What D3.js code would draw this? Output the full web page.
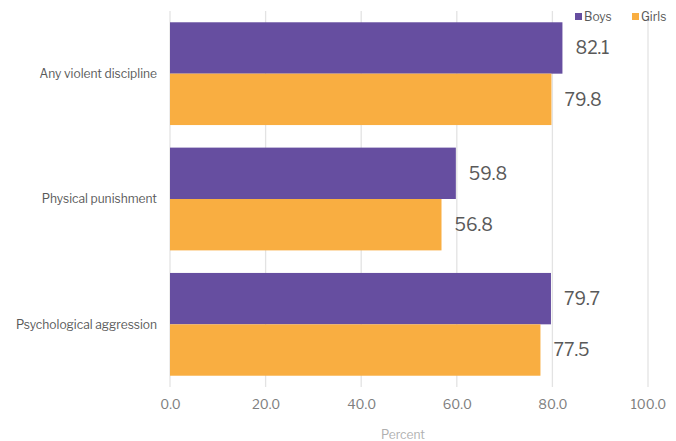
<!DOCTYPE html>
<html><head><meta charset="utf-8">
<script src="https://cdn.jsdelivr.net/npm/d3@7"></script>
<style>body{margin:0;background:#fff}svg{display:block}text{font-family:"Libre Franklin","Liberation Sans","Open Sans",sans-serif}</style>
</head><body><svg id="c" width="676" height="441"></svg>
<script>
const categories = ["Any violent discipline","Physical punishment","Psychological aggression"];
const seriesNames = ["Boys","Girls"];
const boys = [82.1, 59.8, 79.7];
const girls = [79.8, 56.8, 77.5];
const ticks = [0,20,40,60,80,100];
const colors = ["#664EA0","#F9AE41"];

const svg = d3.select("#c");
const x = d3.scaleLinear().domain([0,100]).range([170,648]);
const y = d3.scaleBand().domain(categories).range([11,387]).paddingInner(0.18).paddingOuter(0.09);
const ys = d3.scaleBand().domain(seriesNames).range([0,y.bandwidth()]);

// grid
svg.append("g").selectAll("line").data(ticks).join("line")
  .attr("x1",d=>x(d)).attr("x2",d=>x(d)).attr("y1",11).attr("y2",387)
  .attr("stroke","#e3e3e3").attr("stroke-width",1.3);

const data = categories.map((c,i)=>({c, vals:[boys[i],girls[i]]}));
const g = svg.append("g").selectAll("g").data(data).join("g")
  .attr("transform",d=>`translate(0,${y(d.c)})`);
g.selectAll("rect").data(d=>d.vals.map((v,j)=>({v,s:seriesNames[j],j}))).join("rect")
  .attr("x",x(0)).attr("y",d=>ys(d.s)).attr("width",d=>x(d.v)-x(0)).attr("height",ys.bandwidth())
  .attr("fill",d=>colors[d.j]);
g.selectAll("text.v").data(d=>d.vals.map((v,j)=>({v,s:seriesNames[j],j}))).join("text")
  .attr("class","v").attr("x",d=>x(d.v)+13).attr("y",d=>ys(d.s)+ys.bandwidth()/2)
  .attr("dy","0.36em").attr("font-size",17.5).attr("fill","#595959").text(d=>d.v.toFixed(1));

// category labels
svg.append("g").selectAll("text").data(categories).join("text")
  .attr("x",157).attr("y",d=>y(d)+y.bandwidth()/2).attr("dy","0.35em")
  .attr("text-anchor","end").attr("font-size",12).attr("fill","#595959").text(d=>d);

// x axis labels
const ax = svg.append("g").attr("transform","translate(0,387)")
  .call(d3.axisBottom(x).tickValues(ticks).tickFormat(d3.format(".1f")).tickSize(0).tickPadding(13));
ax.select(".domain").remove();
ax.selectAll("text").attr("font-size",13).attr("fill","#7f7f7f").style("font-family",'"Libre Franklin","Liberation Sans","Open Sans",sans-serif');

svg.append("text").attr("x",403).attr("y",439).attr("text-anchor","middle")
  .attr("font-size",12).attr("fill","#b0b0b0").text("Percent");

// legend
const lg = svg.append("g").selectAll("g").data(seriesNames).join("g")
  .attr("transform",(d,i)=>`translate(${[575,632][i]},13)`);
lg.append("rect").attr("width",7).attr("height",7).attr("y",0).attr("fill",(d,i)=>colors[i]);
lg.append("text").attr("x",9).attr("y",4).attr("dy","0.35em").attr("font-size",12).attr("fill","#595959").text(d=>d);
</script></body></html>
